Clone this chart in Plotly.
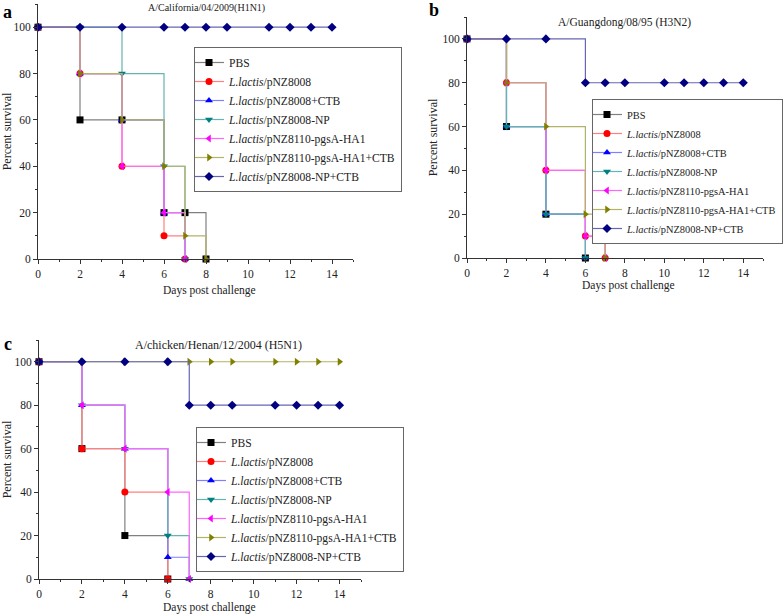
import plotly.graph_objects as go

series_names = [
    "PBS",
    "<i>L.lactis</i>/pNZ8008",
    "<i>L.lactis</i>/pNZ8008+CTB",
    "<i>L.lactis</i>/pNZ8008-NP",
    "<i>L.lactis</i>/pNZ8110-pgsA-HA1",
    "<i>L.lactis</i>/pNZ8110-pgsA-HA1+CTB",
    "<i>L.lactis</i>/pNZ8008-NP+CTB",
]
marker_colors = ["#000000", "#ff0000", "#0000ff", "#008080", "#ff00ff", "#808000", "#000080"]
line_colors = ["#808080", "#ff8080", "#8080ff", "#66b3b3", "#ff66ff", "#b3b366", "#6666b3"]
symbols = ["square", "circle", "triangle-up", "triangle-down", "triangle-left", "triangle-right", "diamond"]

# Panel a: A/California/04/2009(H1N1)
h1n1_days = [
    [0, 2, 4, 6, 7, 8],
    [0, 2, 4, 6, 7],
    [0, 2, 4, 6, 7],
    [0, 2, 4, 6, 7],
    [0, 2, 4, 6, 7],
    [0, 2, 4, 6, 7, 8],
    [0, 2, 4, 6, 7, 8, 9, 11, 12, 13, 14],
]
h1n1_survival = [
    [100, 60, 60, 20, 20, 0],
    [100, 80, 40, 10, 0],
    [100, 80, 60, 20, 0],
    [100, 100, 80, 40, 0],
    [100, 80, 40, 20, 0],
    [100, 80, 60, 40, 10, 0],
    [100, 100, 100, 100, 100, 100, 100, 100, 100, 100, 100],
]

# Panel b: A/Guangdong/08/95 (H3N2)
h3n2_days = [
    [0, 2, 4, 6],
    [0, 2, 4, 6, 7],
    [0, 2, 4, 6],
    [0, 2, 4, 6],
    [0, 2, 4, 6, 7],
    [0, 2, 4, 6, 7],
    [0, 2, 4, 6, 7, 8, 10, 11, 12, 13, 14],
]
h3n2_survival = [
    [100, 60, 20, 0],
    [100, 80, 40, 10, 0],
    [100, 60, 20, 0],
    [100, 60, 20, 0],
    [100, 80, 40, 10, 0],
    [100, 80, 60, 20, 0],
    [100, 100, 100, 80, 80, 80, 80, 80, 80, 80, 80],
]

# Panel c: A/chicken/Henan/12/2004 (H5N1)
h5n1_days = [
    [0, 2, 4, 6],
    [0, 2, 4, 6],
    [0, 2, 4, 6, 7],
    [0, 2, 4, 6, 7],
    [0, 2, 4, 6, 7],
    [0, 2, 4, 6, 7, 8, 9, 11, 12, 13, 14],
    [0, 2, 4, 6, 7, 8, 9, 11, 12, 13, 14],
]
h5n1_survival = [
    [100, 60, 20, 0],
    [100, 60, 40, 0],
    [100, 80, 60, 10, 0],
    [100, 80, 60, 20, 0],
    [100, 80, 60, 40, 0],
    [100, 100, 100, 100, 100, 100, 100, 100, 100, 100, 100],
    [100, 100, 100, 100, 80, 80, 80, 80, 80, 80, 80],
]

panel_titles = ["A/California/04/2009(H1N1)", "A/Guangdong/08/95 (H3N2)", "A/chicken/Henan/12/2004 (H5N1)"]
panel_letters = ["a", "b", "c"]
x_title = "Days post challenge"
y_title = "Percent survival"

FONT = "Liberation Serif, Times New Roman, serif"
W, H = 784, 614

fig = go.Figure()

panels = [
    (h1n1_days, h1n1_survival, "x", "y", "legend"),
    (h3n2_days, h3n2_survival, "x2", "y2", "legend2"),
    (h5n1_days, h5n1_survival, "x3", "y3", "legend3"),
]

for days, surv, xa, ya, lg in panels:
    for i in range(len(series_names)):
        fig.add_trace(go.Scatter(
            x=days[i], y=surv[i], mode="lines+markers",
            line=dict(shape="hv", color=line_colors[i], width=1.2),
            marker=dict(symbol=symbols[i], color=marker_colors[i], size=7),
            name=series_names[i], xaxis=xa, yaxis=ya, legend=lg,
            cliponaxis=False,
        ))

# panel boxes in screen pixel coords: (left, right, top, bottom)
boxes = [(38, 353, 4, 259), (467, 763, 17, 258), (39, 361, 340, 579)]

def px_x(v):
    return v / W

def px_y(v):
    return 1 - v / H

axis_common = dict(
    showline=True, linecolor="#333333", linewidth=1, mirror=False,
    showgrid=False, zeroline=False, ticks="outside", ticklen=4,
    tickcolor="#333333", tickfont=dict(family=FONT, size=11.5, color="#222222"),
    automargin=False,
)

layout = dict(
    width=W, height=H, margin=dict(l=0, r=0, t=0, b=0, autoexpand=False),
    paper_bgcolor="white", plot_bgcolor="white",
    font=dict(family=FONT, size=11, color="#222222"),
)

for k, (l, r, t, b) in enumerate(boxes):
    sx = "" if k == 0 else str(k + 1)
    layout["xaxis" + sx] = dict(
        axis_common, domain=[px_x(l), px_x(r)], range=[0, 15], dtick=2, tick0=0,
        anchor="y" + sx,
        minor=dict(dtick=1, ticks="outside", ticklen=2, tickcolor="#333333"),
    )
    layout["yaxis" + sx] = dict(
        axis_common, domain=[px_y(b), px_y(t)], range=[0, 110],
        tickvals=[0, 20, 40, 60, 80, 100], anchor="x" + sx,
        minor=dict(tickvals=[10, 30, 50, 70, 90, 110], ticks="outside", ticklen=2, tickcolor="#333333"),
        title=dict(text=y_title, font=dict(family=FONT, size=12), standoff=2),
    )

legend_common = dict(
    bgcolor="white", bordercolor="#666666", borderwidth=1,
    xanchor="left", yanchor="top", tracegroupgap=0, itemwidth=30,
    indentation=-6,
)
layout["legend"] = dict(legend_common, x=px_x(194), y=px_y(47),
                        font=dict(family=FONT, size=11.6, color="#222222"))
layout["legend2"] = dict(legend_common, x=px_x(592), y=px_y(99),
                         font=dict(family=FONT, size=10.4, color="#222222"))
layout["legend3"] = dict(legend_common, x=px_x(196), y=px_y(427),
                         font=dict(family=FONT, size=11.6, color="#222222"))

fig.update_layout(**layout)

title_pos = [(207, 8), (624, 22), (218, 345)]
title_size = [10, 11.5, 12]
xtitle_pos = [(209, 290), (628, 285), (209, 607)]
letter_pos = [(8, 12), (434, 10), (8, 344)]
for k in range(3):
    fig.add_annotation(
        text=panel_titles[k], x=px_x(title_pos[k][0]), y=px_y(title_pos[k][1]),
        xref="paper", yref="paper", showarrow=False, xanchor="center", yanchor="middle",
        font=dict(family=FONT, size=title_size[k], color="#222222"),
    )
    fig.add_annotation(
        text=x_title, x=px_x(xtitle_pos[k][0]), y=px_y(xtitle_pos[k][1]),
        xref="paper", yref="paper", showarrow=False, xanchor="center", yanchor="middle",
        font=dict(family=FONT, size=11.5, color="#222222"),
        borderpad=0,
    )
    fig.add_annotation(
        text="<b>" + panel_letters[k] + "</b>", x=px_x(letter_pos[k][0]), y=px_y(letter_pos[k][1]),
        xref="paper", yref="paper", showarrow=False, xanchor="center", yanchor="middle",
        font=dict(family=FONT, size=18, color="#000000"),
    )

fig.write_html(
    "out.html",
    config={"displayModeBar": False},
    post_script="document.body.style.margin='0';document.body.style.overflow='hidden';",
)
